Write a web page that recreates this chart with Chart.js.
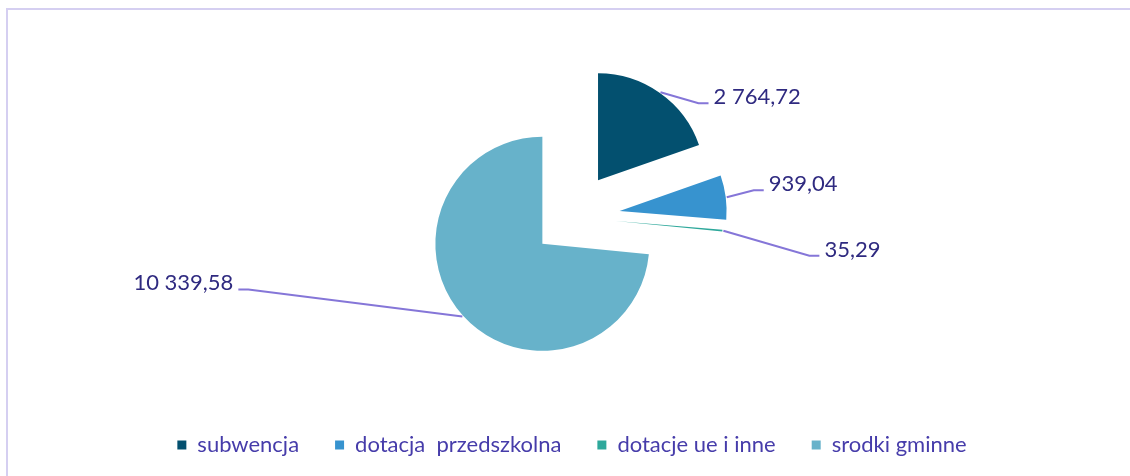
<!DOCTYPE html>
<html lang="pl">
<head>
    <meta charset="UTF-8">
    <title>Źródła finansowania</title>
    <script src="https://cdn.jsdelivr.net/npm/chart.js"></script>
    <style>
        html, body { margin: 0; padding: 0; background: #fff; }
        body { width: 1130px; height: 476px; overflow: hidden; position: relative; }
        .frame { position: absolute; left: 6px; top: 8px; width: 1300px; height: 600px; border: 2px solid #d5cff1; }
        .wrap { position: absolute; left: 0; top: 0; width: 1130px; height: 476px; }
    </style>
</head>
<body>
<div class="frame"></div>
<div class="wrap"><canvas id="pieChart"></canvas></div>

<script>
const categories = ["subwencja", "dotacja  przedszkolna", "dotacje ue i inne", "srodki gminne"];
const values = [2764.72, 939.04, 35.29, 10339.58];

// look
const sliceColors = ["#03506f", "#3793cf", "#2ea89b", "#67b2ca"];
const explode = [45, 48, 44, 40];          // px each slice is pulled out
const labelElbow = [[38, 11], [27, -7], [86, 25], [-214, -27]];
const fontFamily = "Lato, 'Open Sans', sans-serif";

function fmt(v) {
    const parts = v.toFixed(2).split(".");
    return parts[0].replace(/\B(?=(\d{3})+(?!\d))/g, " ") + "," + parts[1];
}

// draw slices pulled out from the centre (arc elements drawn by Chart.js)
const explodedPie = {
    id: "explodedPie",
    beforeDatasetDraw(chart, args) {
        const ctx = chart.ctx;
        args.meta.data.forEach((arc, i) => {
            const mid = (arc.startAngle + arc.endAngle) / 2;
            ctx.save();
            ctx.translate(Math.cos(mid) * explode[i], Math.sin(mid) * explode[i]);
            arc.draw(ctx);
            ctx.restore();
        });
        return false;
    }
};

const leaderLabels = {
    id: "leaderLabels",
    afterDraw(chart) {
        const ctx = chart.ctx;
        const meta = chart.getDatasetMeta(0);
        meta.data.forEach((arc, i) => {
            const mid = (arc.startAngle + arc.endAngle) / 2;
            const r = explode[i] + arc.outerRadius + 1;
            const x0 = arc.x + Math.cos(mid) * r;
            const y0 = arc.y + Math.sin(mid) * r;
            const x1 = x0 + labelElbow[i][0];
            const y1 = y0 + labelElbow[i][1];
            const side = labelElbow[i][0] >= 0 ? 1 : -1;
            const x2 = x1 + side * 10;

            ctx.save();
            ctx.strokeStyle = "#8576d8";
            ctx.lineWidth = 2;
            ctx.beginPath();
            ctx.moveTo(x0, y0);
            ctx.lineTo(x1, y1);
            ctx.lineTo(x2, y1);
            ctx.stroke();

            ctx.fillStyle = "#2f2a80";
            ctx.font = "22px " + fontFamily;
            ctx.textAlign = side > 0 ? "left" : "right";
            ctx.textBaseline = "middle";
            ctx.fillText(fmt(values[i]), x2 + side * 5, y1 - 6);
            ctx.restore();
        });
    }
};

const ctx = document.getElementById("pieChart").getContext("2d");
new Chart(ctx, {
    type: "pie",
    data: {
        labels: categories,
        datasets: [{
            data: values,
            backgroundColor: sliceColors,
            borderWidth: 0
        }]
    },
    options: {
        responsive: true,
        maintainAspectRatio: false,
        animation: false,
        radius: 107,
        layout: { padding: { left: 14, right: 0, top: 36, bottom: 10 } },
        plugins: {
            tooltip: { enabled: false },
            legend: {
                position: "bottom",
                labels: {
                    boxWidth: 9,
                    boxHeight: 9,
                    padding: 36,
                    color: "#463caa",
                    font: { family: fontFamily, size: 22 }
                }
            }
        }
    },
    plugins: [explodedPie, leaderLabels]
});
</script>
</body>
</html>
